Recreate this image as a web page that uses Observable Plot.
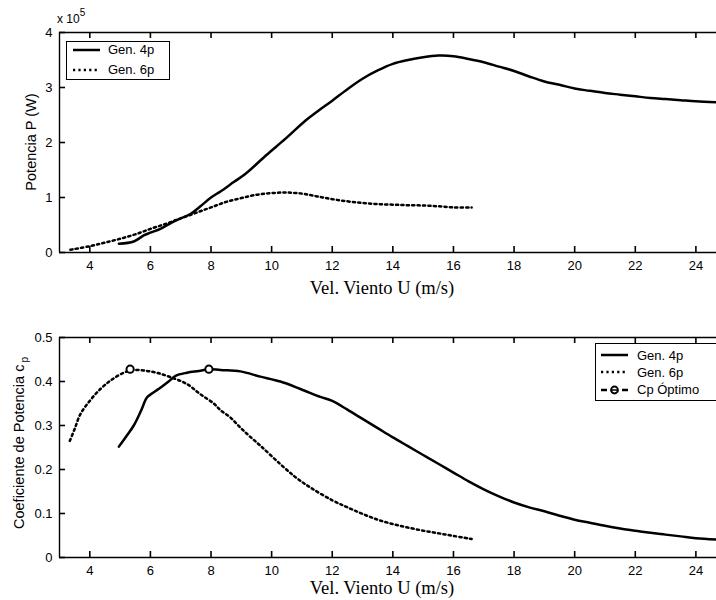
<!DOCTYPE html>
<html>
<head>
<meta charset="utf-8">
<script src="https://cdn.jsdelivr.net/npm/d3@7"></script>
<script src="https://cdn.jsdelivr.net/npm/@observablehq/plot@0.6"></script>
<style>
  html, body { margin: 0; padding: 0; background: #fff; }
  #page { position: relative; width: 716px; height: 600px; overflow: hidden;
          font-family: "Liberation Sans", Arial, sans-serif; color: #000; }
  .panel { position: absolute; left: 0; width: 716px; height: 300px; }
  .panel svg { display: block; }
  .abs { position: absolute; white-space: nowrap; line-height: 1; }
  .ylab { font-size: 14.5px; transform: translate(-50%, -50%) rotate(-90deg); }
  .xlab { font-family: "Liberation Serif", "Times New Roman", serif; font-size: 18.5px;
          transform: translateX(-50%); }
  .legend { position: absolute; background: #fff; border: 1.3px solid #000; box-sizing: border-box; }
  .row { position: absolute; height: 16px; display: flex; align-items: center; font-size: 13px; }
  .row svg { display: block; }
</style>
</head>
<body>
<div id="page"></div>
<script>
// Wind speed ticks shared by both panels (m/s)
const windTicks = [4, 6, 8, 10, 12, 14, 16, 18, 20, 22, 24];
const powerTicks = [0, 1, 2, 3, 4];          // x 10^5 W
const cpTicks = [0, 0.1, 0.2, 0.3, 0.4, 0.5];

// Power curves: [U (m/s), P (x 10^5 W)]
const gen4Power = [
  [4.96,0.16],[5.45,0.20],[5.78,0.31],[6.0,0.36],[6.33,0.43],[6.66,0.53],[7.0,0.62],
  [7.32,0.70],[7.65,0.84],[8.0,1.0],[8.31,1.11],[8.75,1.28],[9.14,1.43],[9.8,1.76],[10.46,2.07],
  [11.12,2.40],[11.5,2.56],[12,2.76],[12.5,2.97],[13,3.16],[13.5,3.31],[14,3.43],
  [14.5,3.50],[15,3.55],[15.5,3.58],[16,3.57],[16.5,3.52],[17,3.46],[17.5,3.38],
  [18,3.30],[18.5,3.20],[19,3.11],[19.5,3.05],[20,2.98],[20.5,2.94],[21,2.90],
  [21.5,2.87],[22,2.84],[22.5,2.81],[23,2.79],[23.5,2.77],[24,2.75],[24.7,2.73]
];
const gen6Power = [
  [3.36,0.05],[4,0.115],[4.5,0.18],[5,0.25],[5.5,0.33],[6,0.43],[6.5,0.52],[7,0.62],
  [7.5,0.72],[8,0.82],[8.5,0.92],[9,0.99],[9.5,1.05],[10,1.08],[10.5,1.09],[11,1.07],
  [11.5,1.02],[12,0.97],[12.5,0.93],[13,0.90],[13.5,0.88],[14,0.87],[14.5,0.86],
  [15,0.855],[15.5,0.84],[16,0.82],[16.6,0.82]
];

// Power coefficient curves: [U (m/s), cp]
const gen4Cp = [
  [4.96,0.252],[5.2,0.275],[5.45,0.30],[5.7,0.335],[5.89,0.364],[6.1,0.375],[6.33,0.386],
  [6.6,0.40],[6.83,0.413],[7.21,0.42],[7.6,0.424],[7.95,0.428],[8.31,0.426],[8.97,0.423],
  [9.63,0.411],[10.29,0.40],[10.95,0.383],[11.61,0.365],[12,0.356],[12.5,0.336],
  [13,0.315],[13.5,0.294],[14,0.273],[14.5,0.253],[15,0.233],[15.5,0.213],[16,0.193],
  [16.5,0.173],[17,0.155],[17.5,0.139],[18,0.125],[18.5,0.114],[19,0.105],[19.5,0.095],
  [20,0.086],[20.5,0.079],[21,0.072],[21.5,0.066],[22,0.061],[22.5,0.056],[23,0.052],
  [23.5,0.048],[24,0.044],[24.7,0.041]
];
const gen6Cp = [
  [3.34,0.265],[3.5,0.292],[3.69,0.326],[4.0,0.356],[4.35,0.383],[4.74,0.405],[5.12,0.42],
  [5.4,0.426],[5.78,0.425],[6.2,0.42],[6.66,0.41],[7.21,0.394],[7.65,0.371],[8.09,0.35],
  [8.31,0.335],[8.64,0.318],[8.97,0.295],[9.25,0.277],[9.63,0.254],[10.29,0.212],
  [10.8,0.182],[11.28,0.159],[12,0.13],[12.5,0.114],[13,0.099],[13.5,0.086],[14,0.076],
  [14.5,0.068],[15,0.061],[15.5,0.055],[16,0.049],[16.6,0.042]
];
// Optimum cp operating points
const cpOptimo = [[5.33,0.428],[7.93,0.428]];

const seriesNames = ["Gen. 4p", "Gen. 6p", "Cp \u00d3ptimo"];

const DOT = "2.2,3.2";
const xDomain = [3, 24.68];
const U = d => d[0], V = d => d[1];

const WIDTH = 716, HEIGHT = 300, MARGIN_LEFT = 59, TICK_PX = 6;

function panel({top, yDomain, yTicks, yFormat, marginTop, marginBottom, marks}) {
  // tick length converted from pixels into data units of each scale
  const tx = (xDomain[1] - xDomain[0]) * TICK_PX / (WIDTH - MARGIN_LEFT);
  const ty = (yDomain[1] - yDomain[0]) * TICK_PX / (HEIGHT - marginTop - marginBottom);
  const tickStyle = {stroke: "#000", strokeWidth: 1.6};
  const chart = Plot.plot({
    width: WIDTH, height: HEIGHT,
    marginTop, marginBottom, marginLeft: MARGIN_LEFT, marginRight: 0,
    style: {fontFamily: '"Liberation Sans", Arial, sans-serif', fontSize: "13px", color: "#000", background: "transparent"},
    x: {domain: xDomain},
    y: {domain: yDomain},
    marks: [
      ...marks,
      // tick marks pointing into the plot area
      Plot.ruleX(windTicks, {x: d => d, y1: yDomain[0], y2: yDomain[0] + ty, ...tickStyle}),
      Plot.ruleX(windTicks, {x: d => d, y1: yDomain[1] - ty, y2: yDomain[1], ...tickStyle}),
      Plot.ruleY(yTicks, {y: d => d, x1: xDomain[0], x2: xDomain[0] + tx, ...tickStyle}),
      // box edges (top, bottom, left)
      Plot.ruleY(yDomain, {stroke: "#000", strokeWidth: 1.4}),
      Plot.ruleX([xDomain[0]], {stroke: "#000", strokeWidth: 1.4}),
      // tick labels
      Plot.axisX({anchor: "bottom", ticks: windTicks, tickSize: 0, tickPadding: 8, label: null}),
      Plot.axisY({anchor: "left", ticks: yTicks, tickSize: 0, tickPadding: 7, tickFormat: yFormat, label: null})
    ]
  });
  const div = document.createElement("div");
  div.className = "panel";
  div.style.top = top + "px";
  div.appendChild(chart);
  return div;
}

const page = document.getElementById("page");
const lineStyle = {x: U, y: V, stroke: "#000", strokeWidth: 2.5, curve: "catmull-rom", clip: true};

page.appendChild(panel({
  top: 0, yDomain: [0, 4], yTicks: powerTicks, yFormat: d => String(d),
  marginTop: 32, marginBottom: 48,
  marks: [
    Plot.line(gen6Power, {...lineStyle, strokeDasharray: DOT}),
    Plot.line(gen4Power, {...lineStyle, strokeLinejoin: "round"})
  ]
}));

page.appendChild(panel({
  top: 300, yDomain: [0, 0.5], yTicks: cpTicks, yFormat: d => d === 0 ? "0" : d3.format(".1f")(d),
  marginTop: 37, marginBottom: 43,
  marks: [
    Plot.line(gen6Cp, {...lineStyle, strokeDasharray: DOT}),
    Plot.line(gen4Cp, {...lineStyle, strokeLinejoin: "round"}),
    Plot.dot(cpOptimo, {x: U, y: V, r: 3.6, fill: "#fff", stroke: "#000", strokeWidth: 2})
  ]
}));

// Text labels
function addText(html, cls, left, top) {
  const el = document.createElement("div");
  el.className = "abs " + cls;
  el.style.left = left + "px";
  el.style.top = top + "px";
  el.innerHTML = html;
  page.appendChild(el);
  return el;
}
addText('x 10<span style="position:relative;top:-7px;font-size:10px;">5</span>', "", 57, 13).style.fontSize = "12px";
addText("Potencia P (W)", "ylab", 30.5, 142);
addText('Coeficiente de Potencia c<span style="font-size:10px;position:relative;top:4px;margin-left:2px;">p</span>', "ylab", 19, 443);
addText("Vel. Viento U (m/s)", "xlab", 382, 279);
addText("Vel. Viento U (m/s)", "xlab", 382, 579);

// Legends
function sample(kind) {
  const ns = "http://www.w3.org/2000/svg";
  const svg = document.createElementNS(ns, "svg");
  svg.setAttribute("width", 27); svg.setAttribute("height", 12);
  const line = (x1, x2, dash, w = 2.5) => {
    const l = document.createElementNS(ns, "line");
    l.setAttribute("x1", x1); l.setAttribute("x2", x2);
    l.setAttribute("y1", 6); l.setAttribute("y2", 6);
    l.setAttribute("stroke", "#000"); l.setAttribute("stroke-width", w);
    if (dash) l.setAttribute("stroke-dasharray", dash);
    svg.appendChild(l);
  };
  if (kind === 0) line(0, 27);
  else if (kind === 1) line(0, 27, DOT);
  else {
    line(0, 6); line(21, 27);
    const c = document.createElementNS(ns, "circle");
    c.setAttribute("cx", 13.5); c.setAttribute("cy", 6); c.setAttribute("r", 3.4);
    c.setAttribute("fill", "#fff"); c.setAttribute("stroke", "#000"); c.setAttribute("stroke-width", 2);
    svg.appendChild(c);
    line(10, 17, null, 1.5);
  }
  return svg;
}
function legend(box, rows) {
  const lg = document.createElement("div");
  lg.className = "legend";
  Object.assign(lg.style, {left: box.left + "px", top: box.top + "px", width: box.width + "px", height: box.height + "px"});
  rows.forEach(r => {
    const row = document.createElement("div");
    row.className = "row";
    row.style.left = box.sampleX + "px";
    row.style.top = (r.y - 8) + "px";
    row.appendChild(sample(r.kind));
    const t = document.createElement("span");
    t.textContent = seriesNames[r.kind];
    t.style.marginLeft = box.gap + "px";
    row.appendChild(t);
    lg.appendChild(row);
  });
  page.appendChild(lg);
}
legend({left: 66, top: 41, width: 104, height: 39, sampleX: 6, gap: 8},
       [{kind: 0, y: 7.5}, {kind: 1, y: 27.5}]);
legend({left: 595, top: 343, width: 140, height: 58, sampleX: 5, gap: 9},
       [{kind: 0, y: 11}, {kind: 1, y: 28.3}, {kind: 2, y: 45.5}]);
</script>
</body>
</html>
